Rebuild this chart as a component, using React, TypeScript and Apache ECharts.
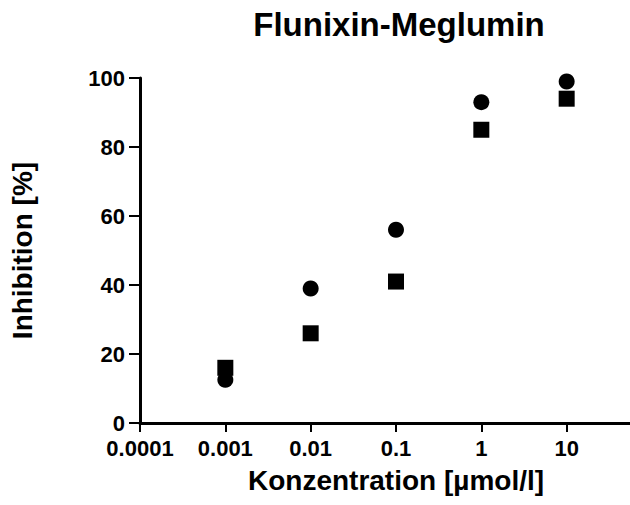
import React, { useEffect, useRef } from "react";
import * as echarts from "echarts";

const concentrations = [0.001, 0.01, 0.1, 1, 10];
const circleValues = [12.5, 39, 56, 93, 99];
const squareValues = [16, 26, 41, 85, 94];
const yTicks = [0, 20, 40, 60, 80, 100];
const xTickLabels = ["0.0001", "0.001", "0.01", "0.1", "1", "10"];

const FONT = "'Liberation Sans', Arial, sans-serif";

export default function App() {
  const ref = useRef<HTMLDivElement>(null);
  useEffect(() => {
    if (!ref.current) return;
    const chart = echarts.init(ref.current, null, { renderer: "svg" });
    const fmt = (v: number) => {
      const e = Math.round(Math.log10(v));
      const s = e < 0 ? v.toFixed(-e) : String(Math.round(v));
      return xTickLabels.includes(s) ? s : "";
    };
    chart.setOption({
      animation: false,
      backgroundColor: "#ffffff",
      title: {
        text: "Flunixin-Meglumin",
        left: 394,
        top: 3,
        textAlign: "center",
        textStyle: { fontFamily: FONT, fontWeight: "bold", fontSize: 33, color: "#000" },
      },
      grid: { left: 140, right: 20, top: 78, bottom: 82 },
      xAxis: {
        type: "log",
        logBase: 10,
        min: 0.0001,
        max: 100,
        name: "Konzentration [µmol/l]",
        nameLocation: "middle",
        nameGap: 43,
        nameTextStyle: { fontFamily: FONT, fontWeight: "bold", fontSize: 28, color: "#000" },
        axisLine: { lineStyle: { color: "#000", width: 3 } },
        axisTick: { show: true, length: 9, lineStyle: { color: "#000", width: 2 } },
        axisLabel: {
          formatter: fmt,
          margin: 14,
          fontFamily: FONT,
          fontWeight: "bold",
          fontSize: 22,
          color: "#000",
        },
        splitLine: { show: false },
        minorTick: { show: false },
      },
      yAxis: {
        type: "value",
        min: 0,
        max: 100,
        interval: 20,
        name: "Inhibition [%]",
        nameLocation: "middle",
        nameGap: 104,
        nameTextStyle: { fontFamily: FONT, fontWeight: "bold", fontSize: 28, color: "#000" },
        axisLine: { show: true, lineStyle: { color: "#000", width: 3 } },
        axisTick: { show: true, length: 11, lineStyle: { color: "#000", width: 2 } },
        axisLabel: {
          margin: 15,
          fontFamily: FONT,
          fontWeight: "bold",
          fontSize: 22,
          color: "#000",
          formatter: (v: number) => (yTicks.includes(v) ? String(v) : ""),
        },
        splitLine: { show: false },
      },
      series: [
        {
          type: "scatter",
          name: "circle",
          symbol: "circle",
          symbolSize: 16,
          itemStyle: { color: "#000", opacity: 1 },
          data: concentrations.map((c, i) => [c, circleValues[i]]),
        },
        {
          type: "scatter",
          name: "square",
          symbol: "rect",
          symbolSize: 16,
          itemStyle: { color: "#000", opacity: 1 },
          data: concentrations.map((c, i) => [c, squareValues[i]]),
        },
      ],
    });
    return () => chart.dispose();
  }, []);
  return (
    <div
      style={{
        position: "absolute",
        left: 0,
        top: 0,
        width: 630,
        height: 505,
        overflow: "hidden",
        background: "#fff",
      }}
    >
      <div ref={ref} style={{ width: 672, height: 505 }} />
    </div>
  );
}
